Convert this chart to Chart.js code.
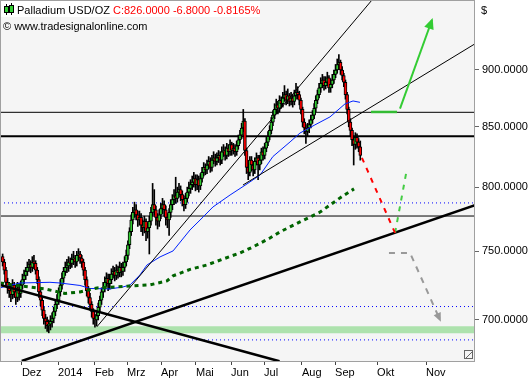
<!DOCTYPE html>
<html>
<head>
<meta charset="utf-8">
<script src="https://cdn.jsdelivr.net/npm/chart.js@4.4.0/dist/chart.umd.min.js"></script>
<style>
  html, body { margin: 0; padding: 0; background: #fff; }
  canvas { display: block; }
</style>
</head>
<body>
<canvas id="chart" width="529" height="380"></canvas>
<script>
// Palladium USD/OZ, daily bars (index 0 = mid Nov 2013)
const opens = [
  746,742,736,727,723,721,718,725,720,716, 723,719,725,729,732,735,738,740,738,742,
  741,736,729,720,714,707,701,699,696,697, 699,701,706,711,714,720,725,730,735,738,
  739,742,741,744,745,742,747,748,745,742, 736,729,721,716,711,706,701,700,703,709,
  714,720,723,727,730,726,729,733,735,732, 736,734,738,735,738,742,747,755,765,774,
  780,782,778,774,776,770,768,773,765,768, 773,780,786,782,776,773,778,783,786,782,
  776,774,780,786,790,793,791,796,798,794, 790,786,791,796,799,802,804,807,802,806,
  801,807,812,816,814,818,821,816,822,824, 821,824,826,822,829,830,826,832,829,835,
  830,832,829,834,839,843,849,855,830,816, 812,822,818,814,821,824,818,822,829,826,
  832,837,842,847,854,860,865,869,866,873, 870,875,878,873,877,872,875,872,877,880,
  878,873,865,854,849,846,849,852,856,860, 866,873,878,884,888,891,886,889,893,884,
  887,891,896,900,905,907,900,895,889,878, 865,854,847,839,835,841,837,833
];
const highs = [
  748,744,738,730,727,724,729,727,723,727, 726,728,733,736,738,742,744,743,746,747,
  743,738,731,722,716,709,704,702,700,703, 705,709,714,718,723,729,734,738,742,744,
  746,745,748,750,747,750,752,750,747,744, 738,731,724,719,713,708,704,706,712,717,
  723,727,731,734,733,733,737,739,738,740, 739,742,741,742,746,751,758,768,778,784,
  788,786,781,781,779,774,777,775,772,777, 784,803,798,785,779,782,787,791,789,785,
  779,783,790,794,798,808,800,803,801,797, 793,795,800,804,806,809,812,810,810,809,
  811,816,820,819,822,825,824,826,829,827, 828,830,829,833,835,833,836,835,839,837,
  836,835,838,843,847,853,865,857,832,819, 825,825,821,824,828,826,826,832,833,836,
  841,846,851,858,864,870,874,872,877,876, 880,886,881,883,879,880,878,882,888,885,
  881,875,867,857,852,853,856,860,864,870, 877,882,888,893,896,894,894,898,895,892,
  896,900,905,910,914,909,903,897,891,880, 867,857,849,842,845,844,840,838
];
const lows = [
  739,733,724,719,716,713,715,716,711,713, 714,716,722,726,729,732,735,734,735,737,
  733,726,716,710,703,697,694,692,691,693, 695,698,703,708,711,717,722,727,732,734,
  735,737,738,740,738,739,743,741,738,732, 725,717,712,707,702,697,695,696,700,706,
  711,716,720,724,721,722,726,730,728,729, 730,731,731,732,735,739,744,752,762,771,
  776,774,769,770,765,762,764,758,760,748, 770,777,778,770,767,769,775,779,777,770,
  768,762,776,782,786,787,788,792,789,785, 781,783,788,793,795,798,800,797,798,796,
  798,804,809,810,811,815,812,813,819,817, 818,820,818,819,825,822,823,825,826,826,
  827,825,826,831,836,840,846,826,811,806, 809,813,809,811,818,806,814,819,822,823,
  829,834,839,844,851,857,861,861,863,866, 867,872,869,870,868,869,867,869,874,874,
  869,861,850,844,836,842,845,849,853,857, 863,870,875,880,884,882,883,886,880,880,
  884,888,893,897,901,896,891,885,874,861, 850,842,834,818,831,832,829,822
];
const closes = [
  742,736,727,723,721,718,725,720,716,723, 719,725,729,732,735,738,740,738,742,741,
  736,729,720,714,707,701,699,696,697,699, 701,706,711,714,720,725,730,735,738,739,
  742,741,744,745,742,747,748,745,742,736, 729,721,716,711,706,701,700,703,709,714,
  720,723,727,730,726,729,733,735,732,736, 734,738,735,738,742,747,755,765,774,780,
  782,778,774,776,770,768,773,765,768,773, 780,786,782,776,773,778,783,786,782,776,
  774,780,786,790,793,791,796,798,794,790, 786,791,796,799,802,804,807,802,806,801,
  807,812,816,814,818,821,816,822,824,821, 824,826,822,829,830,826,832,829,835,830,
  832,829,834,839,843,849,855,830,816,812, 822,818,814,821,824,818,822,829,826,832,
  837,842,847,854,860,865,869,866,873,870, 875,878,873,877,872,875,872,877,880,878,
  873,865,854,849,846,849,852,856,860,866, 873,878,884,888,891,886,889,893,884,887,
  891,896,900,905,907,900,895,889,878,865, 854,847,839,835,841,837,833,826
];

// axis
const monthLabels = ['Dez', '2014', 'Feb', 'Mrz', 'Apr', 'Mai', 'Jun', 'Jul', 'Aug', 'Sep', 'Okt', 'Nov'];
const monthTicks = [11.7, 33.6, 56, 75.5, 96.1, 117.3, 138.6, 158.6, 181.6, 201.7, 227.2, 256.9];
const priceTicks = [700, 750, 800, 850, 900];
const xMin = -1.6, xMax = 286.6;

// moving averages [bar, price]
const maFast = [[-1.6,723],[10.5,726.5],[28.7,727],[34.8,726.5],[46.9,724.7],[53,722.5],[65.2,722.2],
  [73,723.6],[77.3,725.1],[83.3,732.4],[87.6,739.8],[95.5,745.8],[103.4,750.3],[113.7,766.3],
  [121.6,776.3],[127.6,784.2],[138,793.7],[148.3,802.6],[156.2,809.8],[164,825],[174.4,837.2],
  [180.4,844.7],[189.5,851.7],[198.6,858.5],[207.7,869.8],[212.6,872.4],[216.8,871.2]];
const maSlow = [[-1.6,726.5],[10.5,724.4],[25.7,722.2],[37.8,718.9],[46.9,720],[57.3,722.9],
  [73,724],[89.4,725.1],[99.7,728],[103.4,731.7],[113.7,736.5],[124,739.8],[133.7,744.2],
  [144,748.8],[151.9,753.3],[162.2,760.1],[168.3,764.8],[180.4,772.5],[192.6,780.2],
  [204.7,791.4],[213.2,798.6]];

// horizontal levels
const thinLevels = [862.5, 777.1];
const thickLevels = [842];
const dottedLevels = [787.4, 709.5, 686.1];
const band = [695.5, 690.7];

// trend lines [bar, price]
const steepLine = [[57.1,695.1],[224.1,965.6]];
const upperLine = [[145.8,801.7],[286.6,924]];
const supportLine = [[11.6,671.7],[286.6,785.6]];
const fallLine = [[-1.6,725.1],[168,671.5]];

// projections
const redPath = [[218,823.9],[238.1,764]];
const greenPath = [[238.1,764],[245.4,815.5]];
const greyPath = [[234.4,748.8],[247.2,748.8],[265.4,700]];
const greenStep = [[223.5,862.8],[239.3,862.8]];
const greenArrow = [[241.1,865.7],[260.5,946.4]];

const pts = arr => arr.map(([x, y]) => ({ x, y }));
const line = (arr, color, width, dash, order, extra) => Object.assign({
  type: 'line', data: pts(arr), borderColor: color, borderWidth: width,
  borderDash: dash || [], pointRadius: 0, fill: false, tension: 0, order
}, extra || {});
const level = v => [[xMin, v], [xMax, v]];

const datasets = [
  line(level(band[0]), 'rgba(0,0,0,0)', 0, null, 20, { fill: '+1', backgroundColor: '#ade2ad' }),
  line(level(band[1]), 'rgba(0,0,0,0)', 0, null, 21),
  ...dottedLevels.map(v => line(level(v), '#0000ff', 1, [1, 3], 15)),
  ...thinLevels.map(v => line(level(v), '#000', 1, null, 15)),
  ...thickLevels.map(v => line(level(v), '#000', 2.2, null, 15)),
  {
    type: 'bar', order: 10, grouped: false, barThickness: 1, backgroundColor: '#000',
    data: closes.map((c, i) => ({ x: i, y: [lows[i], highs[i]] }))
  },
  {
    type: 'bar', order: 9, grouped: false, barThickness: 3, borderWidth: 1, borderColor: '#000',
    borderSkipped: false,
    backgroundColor: closes.map((c, i) => c >= opens[i] ? '#33cc33' : '#ff0000'),
    data: closes.map((c, i) => ({ x: i, y: [opens[i], c] }))
  },
  line(maSlow, '#006400', 3, [4, 4], 6),
  line(maFast, '#0022ff', 1, null, 6),
  line(steepLine, '#000', 1, null, 5),
  line(upperLine, '#000', 1, null, 5),
  line(supportLine, '#000', 2.5, null, 5),
  line(fallLine, '#000', 2.5, null, 5),
  line(redPath, '#ff0000', 2, [5, 6], 2),
  line(greenPath, '#44cc44', 2, [5, 6], 2),
  line(greyPath, '#999999', 2, [6, 6], 2, { arrow: 7 }),
  line(greenStep, '#33bb33', 2.5, null, 2),
  line(greenArrow, '#33cc33', 2, null, 2, { arrow: 9 })
];

const decor = {
  id: 'decor',
  beforeDraw(chart) {
    const { ctx, chartArea: a } = chart;
    ctx.save();
    ctx.fillStyle = '#fff';
    ctx.fillRect(0, 0, chart.width, chart.height);
    ctx.fillStyle = '#f5f5f5';
    ctx.fillRect(a.left, a.top, a.right - a.left, a.bottom - a.top);
    ctx.restore();
  },
  afterDatasetsDraw(chart) {
    const ctx = chart.ctx;
    chart.data.datasets.forEach((ds, k) => {
      if (!ds.arrow) return;
      const d = chart.getDatasetMeta(k).data;
      const p1 = d[d.length - 2], p2 = d[d.length - 1];
      const ang = Math.atan2(p2.y - p1.y, p2.x - p1.x);
      const L = ds.arrow, W = ds.arrow * 0.55;
      ctx.save();
      ctx.fillStyle = ds.borderColor;
      ctx.translate(p2.x, p2.y);
      ctx.rotate(ang);
      ctx.beginPath();
      ctx.moveTo(2, 0);
      ctx.lineTo(-L, -W);
      ctx.lineTo(-L, W);
      ctx.closePath();
      ctx.fill();
      ctx.restore();
    });
  },
  afterDraw(chart) {
    const { ctx, chartArea: a } = chart;
    ctx.save();
    // frame
    ctx.strokeStyle = '#a0a0a0';
    ctx.lineWidth = 1;
    ctx.strokeRect(a.left + 0.5, a.top + 0.5, a.right - a.left - 1, a.bottom - a.top);
    // resize glyph
    ctx.strokeStyle = '#666';
    ctx.strokeRect(a.right - 10.5, a.bottom - 10.5, 8, 8);
    ctx.beginPath();
    ctx.moveTo(a.right - 9, a.bottom - 3);
    ctx.lineTo(a.right - 3, a.bottom - 9);
    ctx.stroke();
    // header
    ctx.fillStyle = '#fff';
    ctx.fillRect(1, 1, 259, 16);
    // small candle icon
    ctx.fillStyle = '#000';
    ctx.fillRect(6, 4, 1, 11);
    ctx.fillRect(11, 3, 1, 12);
    ctx.fillRect(4, 6, 5, 7);
    ctx.fillRect(9, 5, 5, 8);
    ctx.fillStyle = '#33cc33';
    ctx.fillRect(5, 7, 3, 5);
    ctx.fillRect(10, 6, 3, 6);
    ctx.font = '11px "Liberation Sans"';
    ctx.textBaseline = 'alphabetic';
    ctx.fillStyle = '#000';
    const t1 = 'Palladium USD/OZ ';
    ctx.fillText(t1, 17, 14);
    ctx.fillStyle = '#ff0000';
    ctx.fillText('C:826.0000 -6.8000 -0.8165%', 17 + ctx.measureText(t1).width, 14);
    ctx.fillStyle = '#000';
    ctx.fillText('\u00a9 www.tradesignalonline.com', 3, 30);
    ctx.fillText('$', 481, 14);
    ctx.restore();
  }
};

Chart.defaults.font.family = '"Liberation Sans", Arial, sans-serif';
Chart.defaults.font.size = 11;
Chart.defaults.color = '#000';

new Chart(document.getElementById('chart'), {
  type: 'bar',
  data: { datasets },
  options: {
    responsive: false,
    animation: false,
    devicePixelRatio: 1,
    layout: { padding: 0 },
    plugins: { legend: { display: false }, tooltip: { enabled: false } },
    scales: {
      x: {
        type: 'linear', min: xMin, max: xMax, offset: false,
        grid: { drawOnChartArea: false, drawTicks: true, tickLength: 4, color: '#444', offset: false },
        border: { display: false },
        afterFit: s => { s.height = 19; s.paddingLeft = 0; s.paddingRight = 0; },
        afterBuildTicks: s => { s.ticks = monthTicks.map(v => ({ value: v })); },
        ticks: {
          autoSkip: false, maxRotation: 0, align: 'start', padding: 1,
          callback: (v, i) => monthLabels[i]
        }
      },
      y: {
        type: 'logarithmic', position: 'right', min: 671.7, max: 965.6,
        grid: { drawOnChartArea: false, drawTicks: true, tickLength: 4, color: '#666' },
        border: { display: false },
        afterFit: s => { s.width = 54; s.paddingTop = 0; s.paddingBottom = 0; },
        afterBuildTicks: s => { s.ticks = priceTicks.map(v => ({ value: v })); },
        ticks: { padding: 3, callback: v => Number(v).toFixed(4) }
      }
    }
  },
  plugins: [decor]
});
</script>
</body>
</html>
